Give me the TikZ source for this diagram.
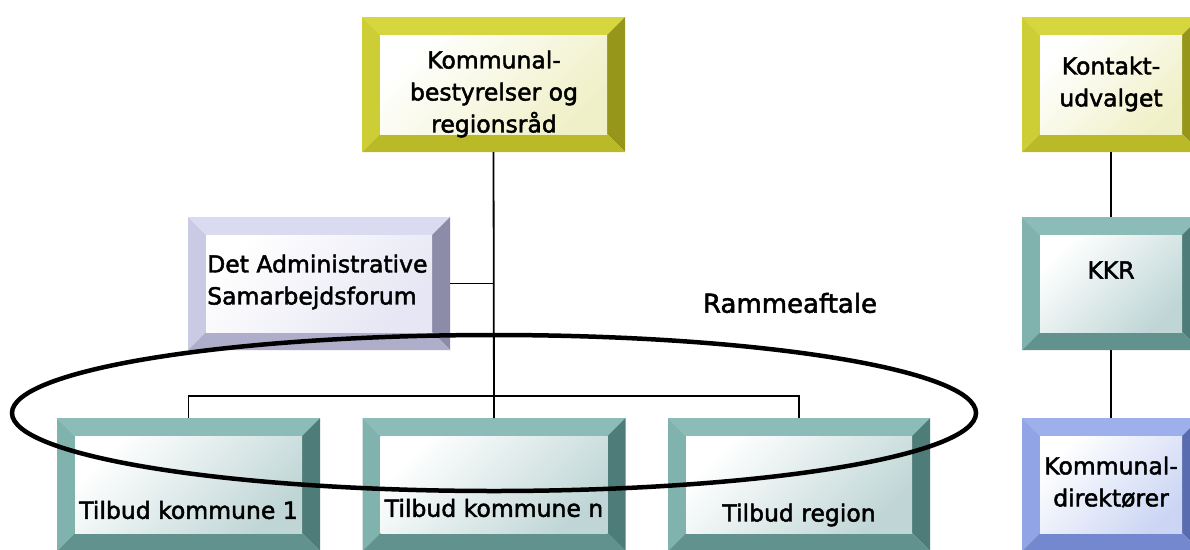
\documentclass[tikz,border=0pt]{standalone}
\usepackage{fontspec}
\setmainfont[FakeBold=2]{DejaVu Sans}
\usetikzlibrary{calc}
\definecolor{yelT}{HTML}{D6D63E}
\definecolor{yelL}{HTML}{CDCD36}
\definecolor{yelR}{HTML}{96961A}
\definecolor{yelB}{HTML}{BABA28}
\definecolor{yelF}{HTML}{F0F0C8}
\definecolor{tealT}{HTML}{8CBCB8}
\definecolor{tealL}{HTML}{80B2AE}
\definecolor{tealR}{HTML}{4E7C78}
\definecolor{tealB}{HTML}{62928E}
\definecolor{tealF}{HTML}{C0D6D6}
\definecolor{lavT}{HTML}{DADAF0}
\definecolor{lavL}{HTML}{CACAE4}
\definecolor{lavR}{HTML}{8C8CA8}
\definecolor{lavB}{HTML}{AEAECA}
\definecolor{lavF}{HTML}{E6E6F4}
\definecolor{bluT}{HTML}{9EB0EC}
\definecolor{bluL}{HTML}{90A4E6}
\definecolor{bluR}{HTML}{5A6CB0}
\definecolor{bluB}{HTML}{7488D0}
\definecolor{bluF}{HTML}{CCD6F4}
\newcommand\bevelbox[2]{%
 \fill[#2T] (#1.north west) -- (#1.north east) -- ($(#1.north east)+(-18,18)$) -- ($(#1.north west)+(18,18)$) -- cycle;
 \fill[#2L] (#1.north west) -- ($(#1.north west)+(18,18)$) -- ($(#1.south west)+(18,-18)$) -- (#1.south west) -- cycle;
 \fill[#2R] (#1.north east) -- ($(#1.north east)+(-18,18)$) -- ($(#1.south east)+(-18,-18)$) -- (#1.south east) -- cycle;
 \fill[#2B] (#1.south west) -- ($(#1.south west)+(18,-18)$) -- ($(#1.south east)+(-18,-18)$) -- (#1.south east) -- cycle;
 \shade[top color=white, bottom color=#2F, shading angle=45] ($(#1.north west)+(18,18)$) rectangle ($(#1.south east)+(-18,-18)$);
}
\begin{document}
\begin{tikzpicture}[x=1pt,y=-1pt,
  boxnode/.style={inner sep=0pt, outer sep=0pt, minimum width=#1},
  boxnode/.default=263pt,
  lbl/.style={inner sep=0pt, align=center, font=\fontsize{23.5}{32}\selectfont},
  conn/.style={draw=black, line width=1.8pt}]
\useasboundingbox (0,0) rectangle (1190,549);
\fill[white] (0,0) rectangle (1190,549);
% box placeholders
\node[boxnode, minimum height=135pt] (top) at (493.5,84.5) {};
\node[boxnode=262pt, minimum height=133pt] (adm) at (319,283.5) {};
\node[boxnode, minimum height=133pt] (t1) at (188.5,484.5) {};
\node[boxnode, minimum height=133pt] (tn) at (494,484.5) {};
\node[boxnode=262pt, minimum height=133pt] (tr) at (799,484.5) {};
\node[boxnode=178pt, minimum height=135pt] (kon) at (1111,84.5) {};
\node[boxnode=178pt, minimum height=133pt] (kkr) at (1111,283.5) {};
\node[boxnode=178pt, minimum height=133pt] (dir) at (1111,484.5) {};
% bevels
\bevelbox{top}{yel}
\bevelbox{adm}{lav}
\bevelbox{t1}{teal}
\bevelbox{tn}{teal}
\bevelbox{tr}{teal}
\bevelbox{kon}{yel}
\bevelbox{kkr}{teal}
\bevelbox{dir}{blu}
% texts
\node[lbl] (toptxt) at (494,94) {Kommunal-\\bestyrelser og\\regionsråd};
\node[lbl, anchor=west, align=left] (admtxt) at (207,282) {Det Administrative\\Samarbejdsforum};
\node[lbl] (t1txt) at (188.5,510) {Tilbud kommune 1};
\node[lbl] (tntxt) at (494,508) {Tilbud kommune n};
\node[lbl] (trtxt) at (799,515) {Tilbud region};
\node[lbl] (kontxt) at (1111,84) {Kontakt-\\udvalget};
\node[lbl] (kkrtxt) at (1111,270) {KKR};
\node[lbl] (dirtxt) at (1111,482) {Kommunal-\\direktører};
\node[inner sep=0pt, font=\fontsize{26}{30}\selectfont] (ramme) at (790,303) {Rammeaftale};
% connectors
\coordinate (bar) at (494,396);
\draw[conn] (top.south) -- (tn.north);
\draw[conn] (adm.east) -- (top.south |- adm.east);
\draw[conn] (t1.north) |- (bar) -| (tr.north);
\draw[conn] (kon.south) -- (kkr.north);
\draw[conn] (kkr.south) -- (dir.north);
% ellipse
\draw[line width=4.5pt] (494,413) ellipse [x radius=482, y radius=78];
\end{tikzpicture}
\end{document}
